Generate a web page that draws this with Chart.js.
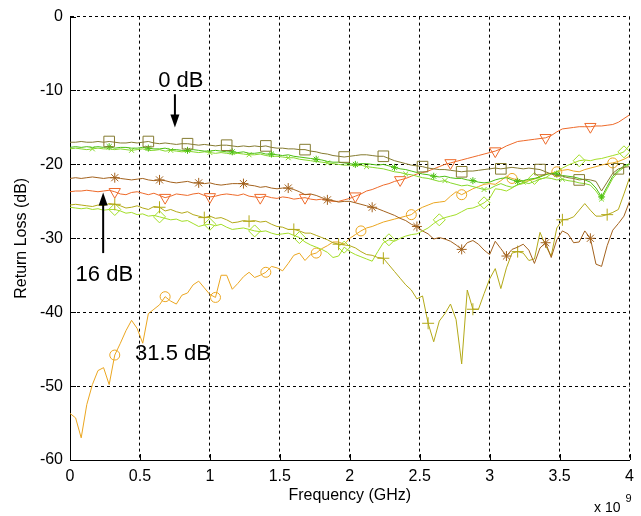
<!DOCTYPE html>
<html>
<head>
<meta charset="utf-8">
<script src="https://cdn.jsdelivr.net/npm/chart.js@4/dist/chart.umd.min.js"></script>
<style>
  html, body { margin: 0; padding: 0; background: #fff; }
  canvas { display: block; }
</style>
</head>
<body>
<canvas id="chartReturnLoss" width="641" height="516"></canvas>
<script>
// frequency sweep, GHz (axis shows x 10^9 Hz)
const freqGHz = [
  0, 0.04, 0.08, 0.12, 0.16, 0.2, 0.24, 0.28, 0.32, 0.36,
  0.4, 0.44, 0.48, 0.52, 0.56, 0.6, 0.64, 0.68, 0.72, 0.76,
  0.8, 0.84, 0.88, 0.92, 0.96, 1, 1.04, 1.08, 1.12, 1.16,
  1.2, 1.24, 1.28, 1.32, 1.36, 1.4, 1.44, 1.48, 1.52, 1.56,
  1.6, 1.64, 1.68, 1.72, 1.76, 1.8, 1.84, 1.88, 1.92, 1.96,
  2, 2.04, 2.08, 2.12, 2.16, 2.2, 2.24, 2.28, 2.32, 2.36,
  2.4, 2.44, 2.48, 2.52, 2.56, 2.6, 2.64, 2.68, 2.72, 2.76,
  2.8, 2.84, 2.88, 2.92, 2.96, 3, 3.04, 3.08, 3.12, 3.16,
  3.2, 3.24, 3.28, 3.32, 3.36, 3.4, 3.44, 3.48, 3.52, 3.56,
  3.6, 3.64, 3.68, 3.72, 3.76, 3.8, 3.84, 3.88, 3.92, 3.96, 4
];

// return loss (dB), one list per attenuator setting
const squareDb = [
  -17.0, -17.0, -16.9, -17.0, -17.0, -16.9, -17.0, -16.9, -17.0, -17.1,
  -17.1, -17.0, -17.1, -17.0, -16.9, -17.1, -17.2, -17.1, -17.2, -17.3,
  -17.2, -17.2, -17.3, -17.4, -17.3, -17.4, -17.5, -17.4, -17.4, -17.5,
  -17.6, -17.5, -17.6, -17.5, -17.6, -17.5, -17.7, -17.8, -17.8, -17.9,
  -17.9, -18.0, -18.0, -18.2, -18.3, -18.5, -18.6, -18.8, -18.9, -19.0,
  -18.9, -18.8, -18.7, -18.7, -18.8, -18.9, -18.9, -19.2, -19.5, -19.7,
  -19.9, -20.1, -20.2, -20.3, -20.5, -20.6, -20.7, -20.7, -20.8, -20.9,
  -21.0, -20.9, -20.9, -20.8, -20.7, -20.6, -20.5, -20.6, -20.5, -20.4,
  -20.5, -20.6, -20.5, -20.6, -20.7, -21.0, -21.3, -21.5, -21.6, -21.8,
  -21.9, -22.1, -22.0, -22.1, -22.3, -23.6, -22.4, -21.2, -20.6, -20.4, -20.3
];
const greenStarDb = [
  -17.7, -17.6, -17.7, -17.6, -17.7, -17.6, -17.7, -17.6, -17.8, -17.7,
  -17.7, -17.8, -17.8, -17.7, -17.8, -17.9, -17.9, -17.8, -18.0, -18.0,
  -18.1, -18.1, -18.0, -18.1, -18.2, -18.2, -18.1, -18.2, -18.3, -18.3,
  -18.4, -18.3, -18.5, -18.5, -18.4, -18.6, -18.6, -18.7, -18.8, -18.7,
  -18.9, -19.0, -19.1, -19.2, -19.3, -19.4, -19.6, -19.7, -19.7, -19.8,
  -19.9, -20.0, -19.9, -19.9, -20.0, -20.1, -20.0, -20.2, -20.4, -20.6,
  -20.7, -20.9, -21.1, -21.3, -21.4, -21.6, -21.7, -21.6, -21.8, -21.9,
  -21.9, -22.1, -22.2, -22.4, -22.5, -22.4, -22.1, -21.9, -21.8, -22.1,
  -22.3, -22.2, -22.0, -21.9, -21.7, -21.4, -21.2, -21.3, -21.5, -21.6,
  -21.7, -21.9, -22.1, -22.4, -23.2, -24.4, -23.0, -21.6, -20.8, -20.2, -19.9
];
const greenCrossDb = [
  -17.9, -17.8, -17.9, -18.0, -17.9, -17.8, -17.9, -17.9, -18.0, -17.9,
  -18.0, -18.1, -18.0, -17.9, -18.1, -18.1, -18.0, -18.2, -18.1, -18.2,
  -18.3, -18.2, -18.3, -18.4, -18.3, -18.4, -18.5, -18.4, -18.5, -18.6,
  -18.5, -18.6, -18.7, -18.7, -18.6, -18.8, -18.9, -18.9, -19.0, -19.1,
  -19.1, -19.3, -19.4, -19.5, -19.6, -19.7, -19.8, -19.9, -20.0, -20.1,
  -20.1, -20.2, -20.1, -20.3, -20.4, -20.5, -20.6, -20.8, -21.0, -21.1,
  -21.3, -21.4, -21.6, -21.8, -21.9, -22.1, -22.3, -22.2, -22.5, -22.7,
  -22.9, -22.8, -23.0, -23.2, -23.4, -23.3, -22.9, -22.6, -22.9, -23.1,
  -22.8, -22.4, -22.6, -22.3, -22.0, -21.8, -21.9, -22.1, -22.0, -22.2,
  -22.3, -22.5, -22.6, -22.8, -23.6, -24.7, -23.3, -21.9, -21.0, -20.4, -20.0
];
const asteriskDb = [
  -21.9, -21.8, -21.9, -21.8, -21.7, -21.8, -21.9, -21.8, -21.8, -21.9,
  -22.0, -22.1, -22.0, -21.9, -22.1, -22.2, -22.1, -22.2, -22.4, -22.5,
  -22.4, -22.3, -22.5, -22.5, -22.6, -22.5, -22.7, -22.8, -22.7, -22.6,
  -22.6, -22.6, -22.8, -22.9, -23.1, -23.0, -23.2, -23.3, -23.2, -23.2,
  -23.4, -23.7, -24.1, -24.0, -24.2, -24.5, -24.8, -24.9, -25.1, -25.0,
  -25.0, -25.2, -25.4, -25.6, -25.8, -26.0, -26.3, -26.6, -26.9, -27.3,
  -27.6, -28.1, -28.4, -29.0, -29.4, -30.1, -29.9, -30.1, -30.4, -30.9,
  -31.5, -30.6, -30.3, -30.8, -31.6, -32.2, -30.4, -31.4, -32.4, -31.5,
  -31.2, -30.8, -31.6, -33.4, -31.3, -30.6, -32.6, -30.2, -29.0, -29.4,
  -30.6, -30.5, -29.0, -30.0, -33.5, -33.8, -31.0, -28.9, -28.0, -27.0, -25.0
];
const triangleDb = [
  -23.7, -23.6, -23.6, -23.5, -23.6, -23.7, -23.6, -23.5, -23.7, -24.0,
  -24.1, -23.8, -23.7, -23.9, -24.1, -23.9, -24.2, -24.5, -24.3, -24.0,
  -24.1, -24.2, -24.0, -23.9, -24.2, -24.4, -24.3, -24.1, -24.0, -24.1,
  -24.2, -24.0, -24.3, -24.4, -24.5, -24.3, -24.5, -24.6, -24.4, -24.5,
  -24.7, -24.6, -24.5, -24.7, -24.8, -24.7, -24.9, -25.0, -25.0, -24.8,
  -24.6, -24.3, -24.0, -23.6, -23.4, -23.1, -22.8, -22.6, -22.3, -22.1,
  -21.9, -21.6, -21.3, -21.1, -20.9, -20.6, -20.3, -20.0, -19.8, -19.6,
  -19.4, -19.2, -19.0, -18.8, -18.6, -18.4, -18.2, -17.9, -17.5, -17.2,
  -16.9, -16.8, -16.7, -16.6, -16.5, -16.4, -16.1, -15.6, -15.2, -15.1,
  -15.0, -14.9, -14.9, -14.9, -14.8, -14.8, -14.7, -14.6, -14.3, -13.8, -13.3
];
const plusDb = [
  -25.5, -25.4, -25.5, -25.6, -25.7, -25.5, -25.6, -25.3, -25.4, -25.6,
  -25.9, -25.8, -25.6, -25.9, -26.1, -25.7, -25.8, -26.3, -26.1, -26.4,
  -26.6, -26.4, -26.8, -27.0, -27.2, -27.0, -27.3, -27.2, -27.5, -27.9,
  -27.8, -27.6, -27.7, -27.6, -27.8, -27.7, -28.1, -28.4, -28.5, -28.8,
  -28.8, -29.0, -29.3, -29.3, -29.6, -29.9, -30.2, -30.6, -30.8, -30.9,
  -31.0, -31.3, -31.8, -32.2, -32.3, -32.6, -32.7, -33.6, -34.5, -35.4,
  -36.3, -37.0, -38.2, -37.8, -41.5, -44.0, -41.2, -40.2, -38.9, -41.0,
  -47.0, -37.0, -39.6, -39.6, -37.5, -35.5, -34.1, -36.8, -34.0, -32.0,
  -31.8, -32.0, -33.0, -32.8, -29.2, -31.0, -32.4, -28.6, -27.5, -27.4,
  -27.1, -26.2, -25.3, -26.2, -27.0, -27.0, -26.8, -26.5, -26.1, -24.0, -21.8
];
const diamondDb = [
  -25.8, -25.9, -26.0, -25.9, -26.1, -26.0, -26.2, -26.1, -26.1, -26.3,
  -26.6, -26.5, -26.8, -26.7, -27.0, -26.9, -27.1, -27.3, -27.5, -27.4,
  -27.7, -27.6, -28.0, -28.4, -28.2, -28.1, -28.3, -28.1, -28.5, -28.8,
  -28.7, -28.6, -28.8, -29.0, -29.1, -29.0, -29.3, -29.5, -29.4, -29.3,
  -29.6, -29.9, -30.5, -30.9, -31.2, -31.5, -31.9, -32.6, -32.4, -31.2,
  -31.8, -32.2, -32.5, -32.8, -33.1, -31.8, -30.6, -30.2, -30.4, -30.0,
  -29.7, -29.5, -29.4, -29.0, -28.6, -28.0, -27.5, -27.2, -27.0, -26.8,
  -26.4, -26.0, -25.9, -25.6, -25.2, -24.6, -23.3, -23.4, -23.6, -23.2,
  -22.7, -22.6, -22.2, -21.9, -22.0, -21.8, -21.3, -21.0, -20.5, -20.1,
  -19.8, -19.5, -19.4, -19.5, -19.3, -19.2, -19.0, -18.8, -18.6, -18.3, -17.4
];
const circleDb = [
  -53.7, -54.3, -57.0, -52.5, -49.8, -47.9, -47.5, -49.8, -45.8, -44.2,
  -42.5, -41.1, -42.2, -44.2, -40.2, -39.6, -39.0, -37.9, -38.5, -38.9,
  -37.7, -37.4, -36.3, -35.8, -36.7, -37.6, -38.0, -35.0, -35.0, -36.9,
  -36.1, -35.2, -34.6, -35.3, -35.0, -34.6, -33.8, -34.0, -34.4, -33.4,
  -32.3, -32.0, -33.0, -32.2, -32.0, -31.4, -31.0, -30.5, -30.5, -30.8,
  -30.0, -29.5, -29.0, -28.6, -28.4, -28.1, -27.8, -27.6, -27.4, -27.2,
  -27.0, -26.8, -26.2, -25.8, -25.5, -25.2, -25.1, -25.0, -24.3, -23.7,
  -24.1, -23.7, -23.3, -23.0, -22.7, -22.6, -22.7, -22.2, -21.6, -21.9,
  -22.1, -22.3, -22.2, -22.0, -21.6, -21.3, -21.2, -21.0, -20.8, -20.7,
  -20.9, -21.0, -20.7, -20.5, -20.3, -20.1, -19.9, -19.8, -19.6, -19.3, -18.9
];

// sample indices that carry a marker
const squareMarks = [7, 14, 21, 28, 35, 42, 49, 56, 63, 70, 77, 84, 91, 98];
const greenStarMarks = [7, 14, 21, 29, 36, 44, 51, 58, 65, 72, 80, 87, 95];
const greenCrossMarks = [4, 11, 18, 25, 32, 39, 46, 53, 60, 67, 74, 81, 88, 95];
const asteriskMarks = [8, 16, 23, 31, 39, 46, 54, 62, 70, 78, 85, 93];
const triangleMarks = [8, 17, 25, 34, 42, 51, 59, 68, 76, 85, 93];
const plusMarks = [8, 16, 24, 32, 40, 48, 56, 64, 72, 80, 88, 96];
const diamondMarks = [8, 16, 25, 33, 41, 49, 57, 66, 74, 83, 91, 99];
const circleMarks = [8, 17, 26, 35, 44, 52, 61, 70, 79, 87, 97];

const xTicks = [0, 0.5, 1, 1.5, 2, 2.5, 3, 3.5, 4];
const yTicks = [-60, -50, -40, -30, -20, -10, 0];

// text callouts, placed in data units
const notes = [
  { text: '0 dB', f: 0.63, db: -9.5 },
  { text: '16 dB', f: 0.04, db: -35.8 },
  { text: '31.5 dB', f: 0.465, db: -46.5 },
];
const arrows = [
  { f: 0.75, from: -10.5, to: -15.0 },
  { f: 0.237, from: -32.0, to: -23.8 },
];

const sans = "'Liberation Sans', Arial, Helvetica, sans-serif";

function series(label, data, color, style, radius, marks, rotation) {
  return {
    label: label,
    data: data,
    borderColor: color,
    borderWidth: 1,
    tension: 0,
    fill: false,
    pointStyle: style,
    rotation: rotation || 0,
    pointRadius: (c) => (marks.includes(c.dataIndex) ? radius : 0),
    pointHoverRadius: 0,
    pointBorderColor: color,
    pointBackgroundColor: 'rgba(0,0,0,0)',
    pointBorderWidth: 1,
  };
}

const extras = {
  id: 'extras',
  afterDraw(chart) {
    const { ctx, chartArea: area } = chart;
    const x = chart.scales.x, y = chart.scales.y;
    ctx.save();
    ctx.strokeStyle = '#000';
    ctx.fillStyle = '#000';

    // inward tick marks
    ctx.lineWidth = 1;
    ctx.beginPath();
    xTicks.forEach((t) => {
      const px = Math.round(x.getPixelForValue(t)) + 0.5;
      ctx.moveTo(px, area.bottom);
      ctx.lineTo(px, area.bottom - 6);
    });
    yTicks.forEach((t) => {
      const py = Math.round(y.getPixelForValue(t)) + 0.5;
      ctx.moveTo(area.left, py);
      ctx.lineTo(area.left + 6, py);
    });
    ctx.stroke();

    // callout text + arrows
    ctx.font = '22px ' + sans;
    ctx.textBaseline = 'alphabetic';
    notes.forEach((n) => ctx.fillText(n.text, x.getPixelForValue(n.f), y.getPixelForValue(n.db)));
    ctx.lineWidth = 2;
    arrows.forEach((a) => {
      const px = x.getPixelForValue(a.f);
      const y0 = y.getPixelForValue(a.from), y1 = y.getPixelForValue(a.to);
      const dir = Math.sign(y1 - y0);
      ctx.beginPath();
      ctx.moveTo(px, y0);
      ctx.lineTo(px, y1 - dir * 10);
      ctx.stroke();
      ctx.beginPath();
      ctx.moveTo(px, y1);
      ctx.lineTo(px - 4.5, y1 - dir * 13);
      ctx.lineTo(px + 4.5, y1 - dir * 13);
      ctx.closePath();
      ctx.fill();
    });

    // axis exponent
    ctx.font = '14px ' + sans;
    ctx.textAlign = 'right';
    ctx.fillText('x 10', area.right - 9, 512);
    ctx.font = '11px ' + sans;
    ctx.textAlign = 'left';
    ctx.fillText('9', area.right - 4, 502);
    ctx.restore();
  },
};

new Chart(document.getElementById('chartReturnLoss'), {
  type: 'line',
  data: {
    labels: freqGHz,
    datasets: [
      series('0 dB', squareDb, '#857B30', 'rect', 7.5, squareMarks),
      series('green *', greenStarDb, '#4DBF12', 'star', 3.5, greenStarMarks),
      series('green x', greenCrossDb, '#86D82C', 'crossRot', 3.5, greenCrossMarks),
      series('asterisk', asteriskDb, '#A3621E', 'star', 5, asteriskMarks),
      series('16 dB', triangleDb, '#EE6A2A', 'triangle', 6.5, triangleMarks, 180),
      series('plus', plusDb, '#B3A918', 'cross', 6, plusMarks),
      series('diamond', diamondDb, '#A3DE28', 'rectRot', 6, diamondMarks),
      series('31.5 dB', circleDb, '#EBA620', 'circle', 5, circleMarks),
    ],
  },
  options: {
    responsive: false,
    animation: false,
    events: [],
    layout: { padding: { left: 0, top: 14, right: 9, bottom: 0 } },
    plugins: { legend: { display: false }, tooltip: { enabled: false } },
    scales: {
      x: {
        type: 'linear',
        min: 0,
        max: 4,
        afterFit: (s) => { s.height = 56; },
        afterBuildTicks: (s) => { s.ticks = xTicks.map((v) => ({ value: v })); },
        ticks: {
          color: '#000', font: { family: sans, size: 16 }, padding: 7, maxRotation: 0, autoSkip: false,
          callback: (v) => String(v),
        },
        grid: { color: '#000', lineWidth: 1, drawTicks: false },
        border: { display: true, color: '#000', width: 1, dash: [3, 3] },
        title: { display: true, text: 'Frequency (GHz)', color: '#000', font: { family: sans, size: 16 }, padding: { top: 0, bottom: 11 } },
      },
      y: {
        min: -60,
        max: 0,
        afterFit: (s) => { s.width = 70; },
        afterBuildTicks: (s) => { s.ticks = yTicks.map((v) => ({ value: v })); },
        ticks: { color: '#000', font: { family: sans, size: 16 }, padding: 7, callback: (v) => String(v) },
        grid: { color: '#000', lineWidth: 1, drawTicks: false },
        border: { display: true, color: '#000', width: 1, dash: [3, 3] },
        title: { display: true, text: 'Return Loss (dB)', color: '#000', font: { family: sans, size: 16 }, padding: { top: 12, bottom: 0 } },
      },
    },
  },
  plugins: [extras],
});
</script>
</body>
</html>
